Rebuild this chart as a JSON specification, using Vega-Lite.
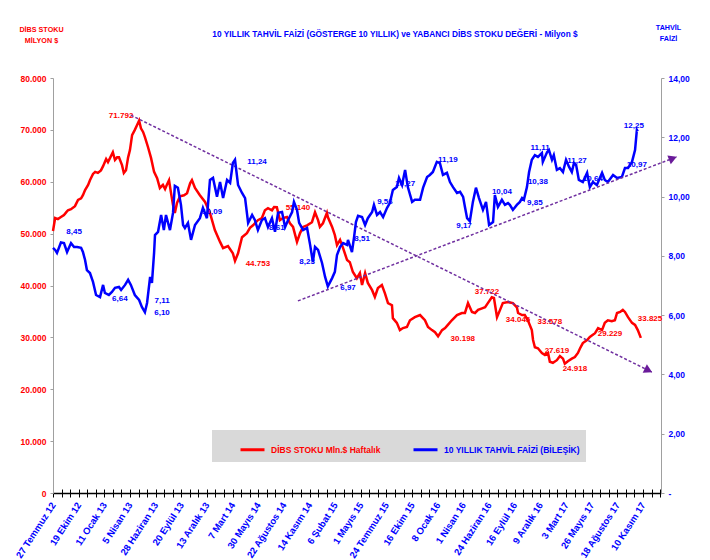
{
  "$schema": "https://vega.github.io/schema/vega-lite/v6.json",
  "width": 608,
  "height": 415,
  "autosize": {"type": "none"},
  "padding": {"left": 53, "top": 78, "right": 49, "bottom": 67},
  "background": "white",
  "config": {
    "font": "Liberation Sans, Arial, sans-serif",
    "view": {"stroke": null},
    "axis": {"grid": false, "labelFontWeight": "bold", "titleFontWeight": "bold", "labelFont": "Liberation Sans, Arial, sans-serif", "titleFont": "Liberation Sans, Arial, sans-serif"},
    "text": {"font": "Liberation Sans, Arial, sans-serif", "fontWeight": "bold", "fontSize": 8}
  },
  "title": {
    "text": "10 YILLIK TAHVİL  FAİZİ (GÖSTERGE  10 YILLIK) ve YABANCI  DİBS STOKU DEĞERİ - Milyon $",
    "color": "#0000ff",
    "fontSize": 8.3,
    "fontWeight": "bold",
    "font": "Liberation Sans, Arial, sans-serif",
    "anchor": "middle",
    "offset": -15,
    "dx": 38
  },
  "datasets": {
    "dibs": [
      {"date":"2012-07-27","value":50500},{"date":"2012-08-03","value":53000},{"date":"2012-08-12","value":52800},{"date":"2012-08-22","value":53200},
      {"date":"2012-09-01","value":53600},{"date":"2012-09-08","value":54100},{"date":"2012-09-14","value":54500},{"date":"2012-09-24","value":54700},
      {"date":"2012-10-07","value":55300},{"date":"2012-10-17","value":56500},{"date":"2012-10-27","value":56800},{"date":"2012-11-02","value":57400},
      {"date":"2012-11-09","value":58400},{"date":"2012-11-19","value":59400},{"date":"2012-11-25","value":60300},{"date":"2012-12-05","value":61500},
      {"date":"2012-12-12","value":61900},{"date":"2012-12-21","value":61700},{"date":"2012-12-31","value":62200},{"date":"2013-01-07","value":63000},
      {"date":"2013-01-17","value":64400},{"date":"2013-01-23","value":63800},{"date":"2013-01-30","value":64600},{"date":"2013-02-08","value":65700},
      {"date":"2013-02-15","value":64200},{"date":"2013-02-22","value":64700},{"date":"2013-02-28","value":64700},{"date":"2013-03-10","value":63200},
      {"date":"2013-03-16","value":61700},{"date":"2013-03-23","value":62200},{"date":"2013-03-30","value":64700},{"date":"2013-04-05","value":66100},
      {"date":"2013-04-12","value":69000},{"date":"2013-04-21","value":70000},{"date":"2013-04-28","value":70900},{"date":"2013-05-05","value":71792},
      {"date":"2013-05-11","value":70300},{"date":"2013-05-18","value":69600},{"date":"2013-05-24","value":68600},{"date":"2013-06-03","value":66700},
      {"date":"2013-06-13","value":64600},{"date":"2013-06-23","value":61900},{"date":"2013-07-03","value":60700},{"date":"2013-07-12","value":58800},
      {"date":"2013-07-22","value":59400},{"date":"2013-07-29","value":58600},{"date":"2013-08-04","value":59400},{"date":"2013-08-11","value":60300},
      {"date":"2013-08-17","value":58000},{"date":"2013-08-24","value":55500},{"date":"2013-08-30","value":54000},{"date":"2013-09-06","value":55900},
      {"date":"2013-09-16","value":57200},{"date":"2013-09-29","value":57400},{"date":"2013-10-09","value":57800},{"date":"2013-10-19","value":59700},
      {"date":"2013-10-25","value":60300},{"date":"2013-11-04","value":58800},{"date":"2013-11-20","value":57400},{"date":"2013-12-07","value":56100},
      {"date":"2013-12-23","value":54000},{"date":"2014-01-08","value":50700},{"date":"2014-01-25","value":48400},{"date":"2014-02-04","value":47200},
      {"date":"2014-02-20","value":47600},{"date":"2014-03-08","value":46200},{"date":"2014-03-15","value":44753},{"date":"2014-03-25","value":46200},
      {"date":"2014-04-07","value":49300},{"date":"2014-04-23","value":50100},{"date":"2014-05-03","value":51100},{"date":"2014-05-13","value":51600},
      {"date":"2014-05-29","value":52600},{"date":"2014-06-11","value":53000},{"date":"2014-06-21","value":54500},{"date":"2014-07-01","value":54900},
      {"date":"2014-07-14","value":54500},{"date":"2014-07-21","value":55140},{"date":"2014-07-30","value":55100},{"date":"2014-08-09","value":52600},
      {"date":"2014-08-19","value":53000},{"date":"2014-09-01","value":53200},{"date":"2014-09-11","value":52000},{"date":"2014-09-21","value":51300},
      {"date":"2014-10-04","value":48400},{"date":"2014-10-14","value":50100},{"date":"2014-10-24","value":51300},{"date":"2014-11-06","value":51600},
      {"date":"2014-11-22","value":52200},{"date":"2014-12-02","value":54100},{"date":"2014-12-12","value":52600},{"date":"2014-12-18","value":51300},
      {"date":"2014-12-28","value":52000},{"date":"2015-01-10","value":54000},{"date":"2015-01-13","value":53200},{"date":"2015-01-27","value":51300},
      {"date":"2015-02-05","value":49700},{"date":"2015-02-12","value":47800},{"date":"2015-02-22","value":48800},{"date":"2015-03-04","value":47200},
      {"date":"2015-03-17","value":44900},{"date":"2015-03-26","value":44500},{"date":"2015-04-05","value":42600},{"date":"2015-04-18","value":41400},
      {"date":"2015-04-28","value":42400},{"date":"2015-05-05","value":40100},{"date":"2015-05-15","value":42400},{"date":"2015-05-24","value":40500},
      {"date":"2015-06-07","value":39100},{"date":"2015-06-16","value":37800},{"date":"2015-06-26","value":39500},{"date":"2015-07-09","value":40100},
      {"date":"2015-07-19","value":38500},{"date":"2015-07-29","value":36600},{"date":"2015-08-11","value":36200},{"date":"2015-08-14","value":33700},
      {"date":"2015-08-27","value":32800},{"date":"2015-09-06","value":31400},{"date":"2015-09-16","value":31800},{"date":"2015-09-29","value":32000},
      {"date":"2015-10-09","value":33300},{"date":"2015-10-25","value":33900},{"date":"2015-11-11","value":34300},{"date":"2015-11-27","value":33300},
      {"date":"2015-12-07","value":32000},{"date":"2015-12-20","value":31400},{"date":"2015-12-30","value":31000},{"date":"2016-01-09","value":30198},
      {"date":"2016-01-22","value":31400},{"date":"2016-02-01","value":31800},{"date":"2016-02-10","value":32400},{"date":"2016-02-23","value":33300},
      {"date":"2016-03-11","value":34300},{"date":"2016-03-27","value":34700},{"date":"2016-04-06","value":34700},{"date":"2016-04-16","value":36600},
      {"date":"2016-04-29","value":34900},{"date":"2016-05-09","value":34700},{"date":"2016-05-19","value":35300},{"date":"2016-06-01","value":35600},
      {"date":"2016-06-11","value":35800},{"date":"2016-06-20","value":36600},{"date":"2016-07-03","value":37722},{"date":"2016-07-10","value":37600},
      {"date":"2016-07-20","value":33900},{"date":"2016-07-30","value":35300},{"date":"2016-08-08","value":36600},{"date":"2016-08-25","value":36800},
      {"date":"2016-09-10","value":36600},{"date":"2016-09-23","value":35800},{"date":"2016-09-27","value":34700},{"date":"2016-10-10","value":34300},
      {"date":"2016-10-19","value":34300},{"date":"2016-10-29","value":33300},{"date":"2016-11-11","value":31400},{"date":"2016-11-15","value":29500},
      {"date":"2016-11-21","value":28100},{"date":"2016-12-01","value":27900},{"date":"2016-12-14","value":27000},{"date":"2016-12-24","value":26600},
      {"date":"2017-01-03","value":27000},{"date":"2017-01-09","value":25300},{"date":"2017-01-19","value":25100},{"date":"2017-02-01","value":25600},
      {"date":"2017-02-11","value":26400},{"date":"2017-02-21","value":25900},{"date":"2017-02-27","value":24918},{"date":"2017-03-09","value":25400},
      {"date":"2017-03-22","value":25900},{"date":"2017-04-01","value":26200},{"date":"2017-04-11","value":27000},{"date":"2017-04-18","value":27900},
      {"date":"2017-04-27","value":28900},{"date":"2017-05-11","value":29500},{"date":"2017-05-20","value":30100},{"date":"2017-06-06","value":30800},
      {"date":"2017-06-16","value":31800},{"date":"2017-06-29","value":31400},{"date":"2017-07-08","value":32800},{"date":"2017-07-18","value":33300},
      {"date":"2017-07-31","value":33100},{"date":"2017-08-10","value":33300},{"date":"2017-08-17","value":34700},{"date":"2017-08-27","value":34900},
      {"date":"2017-09-05","value":35300},{"date":"2017-09-12","value":34900},{"date":"2017-09-22","value":33900},{"date":"2017-10-05","value":32800},
      {"date":"2017-10-15","value":32400},{"date":"2017-10-24","value":31400},{"date":"2017-11-03","value":29900}
    ],
    "faiz": [
      {"date":"2012-07-27","value":8.27},{"date":"2012-08-03","value":8.20},{"date":"2012-08-09","value":8.10},{"date":"2012-08-22","value":8.45},
      {"date":"2012-09-01","value":8.43},{"date":"2012-09-11","value":8.13},{"date":"2012-09-24","value":8.43},{"date":"2012-10-04","value":8.30},
      {"date":"2012-10-14","value":8.30},{"date":"2012-10-27","value":8.27},{"date":"2012-11-02","value":8.13},{"date":"2012-11-09","value":7.86},
      {"date":"2012-11-15","value":7.52},{"date":"2012-11-25","value":7.42},{"date":"2012-12-05","value":7.12},{"date":"2012-12-15","value":6.68},
      {"date":"2012-12-28","value":6.61},{"date":"2013-01-07","value":7.02},{"date":"2013-01-13","value":6.75},{"date":"2013-01-26","value":6.68},
      {"date":"2013-02-05","value":6.78},{"date":"2013-02-15","value":6.92},{"date":"2013-02-28","value":6.95},{"date":"2013-03-07","value":6.85},
      {"date":"2013-03-20","value":7.02},{"date":"2013-03-30","value":7.19},{"date":"2013-04-08","value":7.02},{"date":"2013-04-21","value":6.68},
      {"date":"2013-05-05","value":6.51},{"date":"2013-05-14","value":6.28},{"date":"2013-05-24","value":6.10},{"date":"2013-05-31","value":6.41},
      {"date":"2013-06-10","value":7.29},{"date":"2013-06-16","value":7.09},{"date":"2013-06-23","value":8.10},{"date":"2013-06-26","value":8.70},
      {"date":"2013-07-06","value":8.81},{"date":"2013-07-16","value":9.38},{"date":"2013-07-25","value":8.87},{"date":"2013-08-01","value":9.38},
      {"date":"2013-08-14","value":8.87},{"date":"2013-08-24","value":9.45},{"date":"2013-08-30","value":10.36},{"date":"2013-09-09","value":10.30},
      {"date":"2013-09-19","value":9.72},{"date":"2013-09-26","value":9.04},{"date":"2013-10-02","value":8.94},{"date":"2013-10-12","value":9.11},
      {"date":"2013-10-22","value":8.54},{"date":"2013-11-04","value":9.04},{"date":"2013-11-20","value":9.27},{"date":"2013-11-30","value":9.62},
      {"date":"2013-12-13","value":9.27},{"date":"2013-12-23","value":10.56},{"date":"2014-01-02","value":10.63},{"date":"2014-01-15","value":9.99},
      {"date":"2014-01-25","value":10.49},{"date":"2014-02-04","value":9.95},{"date":"2014-02-17","value":10.56},{"date":"2014-02-27","value":10.46},
      {"date":"2014-03-08","value":11.13},{"date":"2014-03-15","value":11.24},{"date":"2014-03-25","value":10.39},{"date":"2014-04-07","value":10.12},
      {"date":"2014-04-17","value":9.95},{"date":"2014-04-27","value":9.11},{"date":"2014-05-10","value":9.38},{"date":"2014-05-19","value":9.21},
      {"date":"2014-05-29","value":8.87},{"date":"2014-06-11","value":9.21},{"date":"2014-06-21","value":9.27},{"date":"2014-07-01","value":8.97},
      {"date":"2014-07-14","value":9.27},{"date":"2014-07-24","value":8.81},{"date":"2014-08-03","value":9.45},{"date":"2014-08-16","value":9.48},
      {"date":"2014-08-26","value":8.97},{"date":"2014-09-05","value":9.21},{"date":"2014-09-18","value":9.48},{"date":"2014-09-24","value":9.82},
      {"date":"2014-10-04","value":9.55},{"date":"2014-10-11","value":9.11},{"date":"2014-10-24","value":8.87},{"date":"2014-11-06","value":8.94},
      {"date":"2014-11-16","value":8.37},{"date":"2014-11-25","value":7.79},{"date":"2014-12-02","value":8.30},{"date":"2014-12-12","value":8.20},
      {"date":"2014-12-25","value":7.76},{"date":"2015-01-04","value":7.29},{"date":"2015-01-13","value":6.97},{"date":"2015-01-27","value":7.25},
      {"date":"2015-02-05","value":7.46},{"date":"2015-02-12","value":8.03},{"date":"2015-02-22","value":8.30},{"date":"2015-03-04","value":8.43},
      {"date":"2015-03-17","value":8.37},{"date":"2015-03-20","value":8.54},{"date":"2015-04-02","value":8.13},{"date":"2015-04-09","value":8.64},
      {"date":"2015-04-15","value":9.14},{"date":"2015-04-22","value":9.35},{"date":"2015-05-05","value":9.31},{"date":"2015-05-15","value":9.04},
      {"date":"2015-05-24","value":9.27},{"date":"2015-06-07","value":9.48},{"date":"2015-06-13","value":9.72},{"date":"2015-06-23","value":9.38},
      {"date":"2015-07-03","value":9.48},{"date":"2015-07-13","value":9.31},{"date":"2015-07-26","value":9.62},{"date":"2015-08-04","value":9.78},
      {"date":"2015-08-14","value":10.22},{"date":"2015-08-27","value":10.32},{"date":"2015-09-03","value":10.63},{"date":"2015-09-13","value":10.39},
      {"date":"2015-09-23","value":10.90},{"date":"2015-10-02","value":10.32},{"date":"2015-10-16","value":9.82},{"date":"2015-10-25","value":9.89},
      {"date":"2015-11-11","value":9.89},{"date":"2015-11-21","value":10.30},{"date":"2015-12-04","value":10.66},{"date":"2015-12-13","value":10.73},
      {"date":"2015-12-23","value":10.83},{"date":"2016-01-05","value":11.17},{"date":"2016-01-15","value":11.13},{"date":"2016-01-25","value":10.73},
      {"date":"2016-02-07","value":10.80},{"date":"2016-02-17","value":10.49},{"date":"2016-02-27","value":10.32},{"date":"2016-03-11","value":10.12},
      {"date":"2016-03-21","value":10.16},{"date":"2016-03-31","value":9.99},{"date":"2016-04-06","value":9.65},{"date":"2016-04-13","value":9.27},
      {"date":"2016-04-22","value":9.17},{"date":"2016-05-02","value":9.82},{"date":"2016-05-12","value":10.30},{"date":"2016-05-22","value":9.95},
      {"date":"2016-06-04","value":9.55},{"date":"2016-06-14","value":9.82},{"date":"2016-06-24","value":9.04},{"date":"2016-07-07","value":9.14},
      {"date":"2016-07-13","value":10.05},{"date":"2016-07-23","value":9.65},{"date":"2016-08-05","value":9.89},{"date":"2016-08-15","value":9.72},
      {"date":"2016-08-25","value":9.78},{"date":"2016-08-31","value":9.72},{"date":"2016-09-10","value":9.55},{"date":"2016-09-23","value":9.72},
      {"date":"2016-10-03","value":9.82},{"date":"2016-10-10","value":9.95},{"date":"2016-10-16","value":9.89},{"date":"2016-10-26","value":10.32},
      {"date":"2016-11-02","value":10.83},{"date":"2016-11-11","value":11.24},{"date":"2016-11-21","value":11.40},{"date":"2016-12-01","value":11.34},
      {"date":"2016-12-14","value":11.47},{"date":"2016-12-17","value":11.17},{"date":"2016-12-31","value":11.50},{"date":"2017-01-06","value":11.57},
      {"date":"2017-01-16","value":11.24},{"date":"2017-01-22","value":11.40},{"date":"2017-02-01","value":10.90},{"date":"2017-02-11","value":10.96},
      {"date":"2017-02-21","value":10.83},{"date":"2017-03-03","value":11.24},{"date":"2017-03-13","value":11.00},{"date":"2017-03-22","value":10.83},
      {"date":"2017-03-29","value":11.13},{"date":"2017-04-05","value":11.07},{"date":"2017-04-14","value":10.56},{"date":"2017-04-27","value":10.49},
      {"date":"2017-05-11","value":10.80},{"date":"2017-05-20","value":10.32},{"date":"2017-05-30","value":10.49},{"date":"2017-06-12","value":10.39},
      {"date":"2017-06-29","value":10.80},{"date":"2017-07-08","value":10.56},{"date":"2017-07-18","value":10.49},{"date":"2017-08-04","value":10.73},
      {"date":"2017-08-17","value":10.63},{"date":"2017-09-02","value":10.66},{"date":"2017-09-12","value":10.96},{"date":"2017-09-22","value":10.96},
      {"date":"2017-10-05","value":11.17},{"date":"2017-10-15","value":11.57},{"date":"2017-10-21","value":12.25},{"date":"2017-10-24","value":12.20}
    ],
    "dibsLabels": [
      {"date":"2013-03-07","value":72650,"text":"71.792"},
      {"date":"2014-05-29","value":44130,"text":"44.753"},
      {"date":"2014-10-07","value":54920,"text":"55.140"},
      {"date":"2016-03-30","value":29680,"text":"30.198"},
      {"date":"2016-06-17","value":38730,"text":"37.722"},
      {"date":"2016-09-27","value":33340,"text":"34.045"},
      {"date":"2017-01-09","value":32950,"text":"33.578"},
      {"date":"2017-02-01","value":27360,"text":"27.619"},
      {"date":"2017-04-01","value":23890,"text":"24.918"},
      {"date":"2017-07-25","value":30640,"text":"29.229"},
      {"date":"2017-12-03","value":33530,"text":"33.825"}
    ],
    "faizLabels": [
      {"date":"2012-10-04","value":8.81,"text":"8,45"},
      {"date":"2013-03-03","value":6.55,"text":"6,64"},
      {"date":"2013-07-19","value":6.48,"text":"7,11"},
      {"date":"2013-07-19","value":6.07,"text":"6,10"},
      {"date":"2013-12-30","value":9.48,"text":"10,09"},
      {"date":"2014-05-26","value":11.17,"text":"11,24"},
      {"date":"2014-07-30","value":8.94,"text":"8,61"},
      {"date":"2014-11-06","value":7.79,"text":"8,23"},
      {"date":"2015-03-20","value":6.92,"text":"6,97"},
      {"date":"2015-05-05","value":8.57,"text":"8,51"},
      {"date":"2015-07-19","value":9.82,"text":"9,56"},
      {"date":"2015-09-23","value":10.43,"text":"10,27"},
      {"date":"2016-02-10","value":11.23,"text":"11,19"},
      {"date":"2016-04-03","value":9.01,"text":"9,17"},
      {"date":"2016-08-05","value":10.16,"text":"10,04"},
      {"date":"2016-12-01","value":10.49,"text":"10,38"},
      {"date":"2016-11-21","value":9.78,"text":"9,85"},
      {"date":"2016-12-08","value":11.64,"text":"11,11"},
      {"date":"2017-04-08","value":11.20,"text":"11,27"},
      {"date":"2017-05-30","value":10.59,"text":"10,64"},
      {"date":"2017-10-21","value":11.07,"text":"10,97"},
      {"date":"2017-10-11","value":12.38,"text":"12,25"}
    ],
    "trendA": [{"date":"2013-04-08","value":72840},{"date":"2017-12-09","value":23320}],
    "arrowA": [{"date":"2017-11-28","value":23640}],
    "trendB": [{"date":"2014-10-07","value":6.48},{"date":"2018-03-01","value":11.34}],
    "arrowB": [{"date":"2018-02-16","value":11.29}]
  },
  "layer": [
    {
      "encoding": {
        "x": {
          "field": "date", "type": "temporal",
          "scale": {"domain": [1343347200000, 1515369600000]},
          "axis": {
            "orient": "bottom",
            "values": {"expr": "sequence(1343347200000, 1515369600000, 2419200000)"},
            "labelExpr": "(datum.value - 1343347200000) % 7257600000 == 0 ? utcdate(datum.value) + ' ' + ['Ocak','Şubat','Mart','Nisan','Mayıs','Haziran','Temmuz','Ağustos','Eylül','Ekim','Kasım','Aralık'][utcmonth(datum.value)] + ' ' + utcFormat(datum.value, '%y') : ''",
            "labelAngle": -57, "labelAlign": "right", "labelBaseline": "middle",
            "labelColor": "#0000ff", "labelFontSize": 9.5, "labelPadding": 6,
            "labelOverlap": false, "labelFlush": false, "labelBound": false,
            "domainColor": "#000000", "domainWidth": 1.5,
            "tickColor": "#000000", "tickSize": 4, "tickWidth": 1,
            "title": null
          }
        },
        "y": {
          "field": "value", "type": "quantitative",
          "scale": {"domain": [0, 80000]},
          "axis": {
            "orient": "left",
            "values": [0, 10000, 20000, 30000, 40000, 50000, 60000, 70000, 80000],
            "labelExpr": "replace(format(datum.value, ','), ',', '.')",
            "labelColor": "#ff0000", "labelFontSize": 8.5, "labelPadding": 4,
            "tickSize": 3, "tickColor": "#a0a0a0", "domainColor": "#a0a0a0",
            "title": ["DİBS STOKU", "MİLYON $"],
            "titleColor": "#ff0000", "titleFontSize": 7.2, "titleAngle": 0,
            "titleAlign": "center", "titleBaseline": "top",
            "titleX": -12, "titleY": -53, "titleLineHeight": 11
          }
        }
      },
      "layer": [
        {
          "data": {"name": "dibs"},
          "mark": {"type": "line", "strokeWidth": 2.5},
          "encoding": {
            "color": {
              "datum": "DİBS STOKU Mln.$ Haftalık", "type": "nominal",
              "scale": {"domain": ["DİBS STOKU Mln.$ Haftalık", "10 YILLIK TAHVİL FAİZİ (BİLEŞİK)"], "range": ["#ff0000", "#0000ff"]},
              "legend": {
                "orient": "none", "legendX": 159, "legendY": 352,
                "direction": "horizontal", "columns": 2, "title": null,
                "fillColor": "#d9d9d9", "padding": 6,
                "symbolType": "stroke", "symbolStrokeWidth": 3, "symbolSize": 576,
                "symbolOffset": 21, "labelOffset": 5, "columnPadding": 10,
                "labelFont": "Liberation Sans, Arial, sans-serif",
                "labelFontSize": 8.5, "labelFontWeight": "bold", "labelLimit": 300,
                "labelColor": {"expr": "datum.value == '10 YILLIK TAHVİL FAİZİ (BİLEŞİK)' ? '#0000ff' : '#ff0000'"}
              }
            }
          }
        },
        {
          "data": {"name": "dibsLabels"},
          "mark": {"type": "text", "color": "#ff0000", "align": "center", "baseline": "middle"},
          "encoding": {"text": {"field": "text"}}
        },
        {
          "data": {"name": "trendA"},
          "mark": {"type": "line", "color": "#7030a0", "strokeDash": [3, 2], "strokeWidth": 1.5}
        },
        {
          "data": {"name": "arrowA"},
          "mark": {"type": "point", "shape": "triangle-right", "filled": true, "color": "#6a1b9a", "size": 90, "angle": 26, "opacity": 1}
        }
      ]
    },
    {
      "encoding": {
        "x": {
          "field": "date", "type": "temporal",
          "axis": {
            "orient": "bottom",
            "values": {"expr": "sequence(1343347200000, 1515369600000, 2419200000)"},
            "labels": false, "domain": false,
            "tickColor": "#000000", "tickSize": -4, "tickWidth": 1,
            "title": null
          }
        },
        "y": {
          "field": "value", "type": "quantitative",
          "scale": {"domain": [0, 14]},
          "axis": {
            "orient": "right",
            "values": [0, 2, 4, 6, 8, 10, 12, 14],
            "labelExpr": "datum.value == 0 ? '-' : replace(format(datum.value, '.2f'), '.', ',')",
            "labelColor": "#0000ff", "labelFontSize": 8.5, "labelPadding": 4,
            "tickSize": 3, "tickColor": "#a0a0a0", "domainColor": "#a0a0a0",
            "title": ["TAHVİL", "FAİZİ"],
            "titleColor": "#0000ff", "titleFontSize": 7.2, "titleAngle": 0,
            "titleAlign": "center", "titleBaseline": "top",
            "titleX": 7, "titleY": -55, "titleLineHeight": 11
          }
        }
      },
      "layer": [
        {
          "data": {"name": "faiz"},
          "mark": {"type": "line", "strokeWidth": 2.5},
          "encoding": {
            "color": {"datum": "10 YILLIK TAHVİL FAİZİ (BİLEŞİK)", "type": "nominal"}
          }
        },
        {
          "data": {"name": "faizLabels"},
          "mark": {"type": "text", "color": "#0000ff", "align": "center", "baseline": "middle"},
          "encoding": {"text": {"field": "text"}}
        },
        {
          "data": {"name": "trendB"},
          "mark": {"type": "line", "color": "#7030a0", "strokeDash": [3, 2], "strokeWidth": 1.5}
        },
        {
          "data": {"name": "arrowB"},
          "mark": {"type": "point", "shape": "triangle-right", "filled": true, "color": "#6a1b9a", "size": 90, "angle": -21, "opacity": 1}
        }
      ]
    }
  ],
  "resolve": {"scale": {"y": "independent"}, "axis": {"x": "independent"}}
}
